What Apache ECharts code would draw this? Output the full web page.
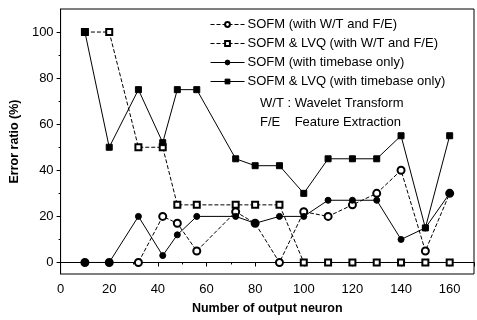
<!DOCTYPE html>
<html>
<head>
<meta charset="utf-8">
<script src="https://cdn.jsdelivr.net/npm/echarts@6/dist/echarts.min.js"></script>
<style>
  html, body { margin: 0; padding: 0; background: #fff; }
  #chart { width: 477px; height: 320px; }
</style>
</head>
<body>
<div id="chart"></div>
<script>
	// 数据
	var neurons = [10, 20, 32, 42, 48, 56, 72, 80, 90, 100, 110, 120, 130, 140, 150, 160];
	var sofmWT = [0, 0, 0, 20, 17, 5, 22, 17, 0, 22, 20, 25, 30, 40, 5, 30];
	var lvqWT = [100, 100, 50, 50, 25, 25, 25, 25, 25, 0, 0, 0, 0, 0, 0, 0];
	var sofmTB = [0, 0, 20, 3, 12, 20, 20, 17, 20, 20, 27, 27, 27, 10, 15, 30];
	var lvqTB = [100, 50, 75, 52, 75, 75, 45, 42, 42, 30, 45, 45, 45, 55, 15, 55];
	var seriesNames = [
		"SOFM (with W/T and F/E)",
		"SOFM & LVQ (with W/T and F/E)",
		"SOFM (with timebase only)",
		"SOFM & LVQ (with timebase only)"
	];
	var yMajor = [0, 20, 40, 60, 80, 100];
	var yMinor = [10, 30, 50, 70, 90];

	var font = "Liberation Sans, Arial, sans-serif";

	function pairs(vals) {
		var out = [];
		for (var i = 0; i < vals.length; i++) {
			out.push([neurons[i], vals[i]]);
		}
		return out;
	}

	function mkSeries(name, vals, symbol, size, dashed) {
		return {
			name: name,
			type: "line",
			data: pairs(vals),
			symbol: symbol,
			symbolSize: size,
			color: "#000",
			itemStyle: { color: "#000", borderColor: "#000", borderWidth: 1 },
			lineStyle: { color: "#000", width: 1, type: dashed ? [4, 2] : "solid" },
			emphasis: { disabled: true },
			animation: false
		};
	}

	var chart = echarts.init(document.getElementById("chart"));
	chart.setOption({
		backgroundColor: "#fff",
		animation: false,
		grid: {
			left: 57, right: 3, top: 9, bottom: 38,
			show: true, borderColor: "#000", borderWidth: 1
		},
		legend: {
			orient: "vertical",
			left: 205, top: 13,
			itemWidth: 34, itemHeight: 6, itemGap: 6,
			lineStyle: { width: 1 },
			itemStyle: { borderWidth: 1 },
			textStyle: { fontFamily: font, fontSize: 13, color: "#000", padding: [0, 0, 0, -2] },
			data: seriesNames
		},
		xAxis: {
			type: "value",
			min: 0, max: 170, interval: 20,
			name: "Number of output neuron",
			nameLocation: "middle", nameGap: 28,
			nameTextStyle: { fontFamily: font, fontSize: 12.5, fontWeight: "bold", color: "#000" },
			axisLine: { lineStyle: { color: "#000" } },
			axisTick: { length: 4, lineStyle: { color: "#000" } },
			minorTick: { show: true, splitNumber: 2, length: 2, lineStyle: { color: "#000" } },
			axisLabel: { fontFamily: font, fontSize: 13, color: "#000", margin: 9, showMaxLabel: false },
			splitLine: { show: false }
		},
		yAxis: [{
			type: "value",
			min: -5, max: 110,
			name: "Error ratio (%)",
			nameLocation: "middle", nameGap: 30,
			nameTextStyle: { fontFamily: font, fontSize: 12.5, fontWeight: "bold", color: "#000" },
			axisLine: { show: true, lineStyle: { color: "#000" } },
			axisTick: { show: true, length: 4, customValues: yMajor, lineStyle: { color: "#000" } },
			axisLabel: { fontFamily: font, fontSize: 13, color: "#000", margin: 7, customValues: yMajor },
			splitLine: { show: false }
		}, {
			type: "value",
			min: -5, max: 110,
			position: "left",
			axisLine: { show: false },
			axisTick: { show: true, length: 2, customValues: yMinor, lineStyle: { color: "#000" } },
			axisLabel: { show: false, customValues: yMinor },
			splitLine: { show: false }
		}],
		graphic: [{
			type: "text", left: 260, top: 97,
			style: { text: "W/T : Wavelet Transform", font: "13px " + font, fill: "#000" }
		}, {
			type: "text", left: 260, top: 116,
			style: { text: "F/E    Feature Extraction", font: "13px " + font, fill: "#000" }
		}],
		series: [
			mkSeries(seriesNames[0], sofmWT, "emptyCircle", 7, true),
			mkSeries(seriesNames[1], lvqWT, "emptyRect", 6, true),
			mkSeries(seriesNames[2], sofmTB, "circle", 6, false),
			mkSeries(seriesNames[3], lvqTB, "rect", 6, false)
		]
	});
</script>
</body>
</html>
